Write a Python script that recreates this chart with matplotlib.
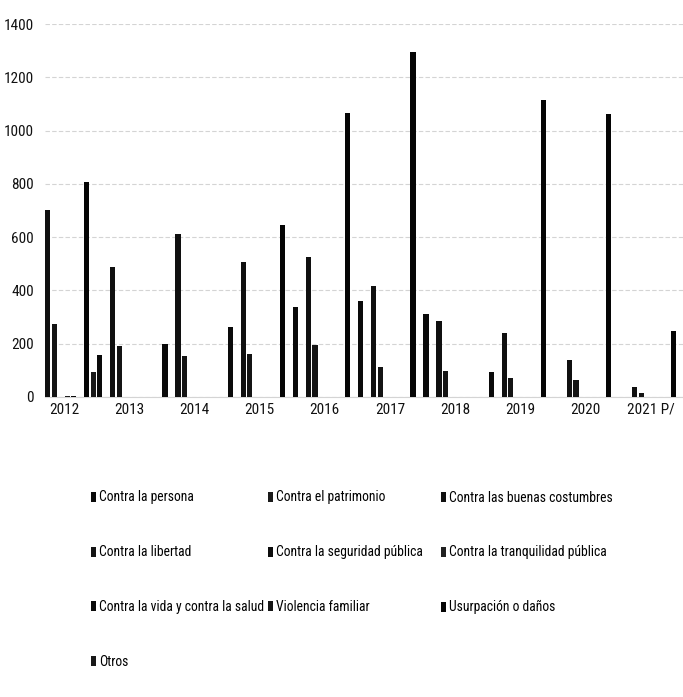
import matplotlib
matplotlib.use("Agg")
import matplotlib.pyplot as plt
import numpy as np

years = ["2012", "2013", "2014", "2015", "2016", "2017", "2018", "2019", "2020", "2021 P/"]

series_names = [
    "Contra la persona",
    "Contra el patrimonio",
    "Contra las buenas costumbres",
    "Contra la libertad",
    "Contra la seguridad pública",
    "Contra la tranquilidad pública",
    "Contra la vida y contra la salud",
    "Violencia familiar",
    "Usurpación o daños",
    "Otros",
]

persona = [0, 158, 199, 263, 339, 360, 311, 94, 0, 0]
patrimonio = [0, 0, 0, 0, 0, 0, 0, 0, 0, 0]
buenas_costumbres = [702, 489, 611, 508, 527, 417, 285, 241, 139, 38]
libertad = [274, 191, 154, 160, 195, 113, 98, 72, 64, 15]
seguridad = [0, 0, 0, 0, 0, 0, 0, 0, 0, 0]
tranquilidad = [5, 0, 0, 0, 0, 0, 0, 0, 0, 0]
vida_salud = [5, 0, 0, 0, 0, 0, 0, 0, 0, 0]
violencia = [0, 0, 0, 0, 0, 0, 0, 0, 0, 0]
usurpacion = [807, 0, 0, 646, 1065, 1296, 0, 1115, 1062, 248]
otros = [94, 0, 0, 0, 0, 0, 0, 0, 0, 0]

values = [persona, patrimonio, buenas_costumbres, libertad, seguridad,
          tranquilidad, vida_salud, violencia, usurpacion, otros]
colors = ["#0a0a0a", "#1a1a1a", "#101010", "#141414", "#0d0d0d",
          "#202020", "#0a0a0a", "#151515", "#050505", "#181818"]

plt.rcParams["font.family"] = ["Roboto Condensed", "Liberation Sans", "DejaVu Sans"]

fig = plt.figure(figsize=(6.83, 6.97), dpi=100)
ax = fig.add_axes([45 / 683, 300 / 697, 638 / 683, 373 / 697])

x = np.arange(len(years))
slot = 0.1
handles = []
for k, (name, vals) in enumerate(zip(series_names, values)):
    h = ax.bar(x + (k - 4.5) * slot, vals, width=slot * 0.8,
               color=colors[k], label=name, zorder=3)
    handles.append(h)

ax.set_xlim(-0.29, 9.49)
ax.set_ylim(0, 1400)
ax.set_yticks(range(0, 1401, 200))
ax.set_xticks(x)
ax.set_xticklabels(years)
ax.yaxis.grid(True, color="#d4d4d4", linewidth=0.8, linestyle=(0, (4, 2)), zorder=0)
for s in ["top", "right", "left"]:
    ax.spines[s].set_visible(False)
ax.spines["bottom"].set_color("#d4d4d4")
ax.tick_params(axis="both", length=0, labelsize=11, colors="#111111")
ax.tick_params(axis="y", pad=8)
ax.tick_params(axis="x", pad=4)

# one legend per column so the columns sit where the reference has them
col_x = [91, 268, 441]
cols = [[0, 3, 6, 9], [1, 4, 7], [2, 5, 8]]
for cx, idx in zip(col_x, cols):
    fig.legend([handles[i] for i in idx], [series_names[i] for i in idx],
               loc="upper left", bbox_to_anchor=(cx / 683, 1 - 490.5 / 697),
               ncol=1, frameon=False, fontsize=9.8, handlelength=0.4,
               handleheight=0.75, handletextpad=0.2, labelspacing=3.0,
               borderpad=0, borderaxespad=0)

fig.savefig("out.png", dpi=100)
